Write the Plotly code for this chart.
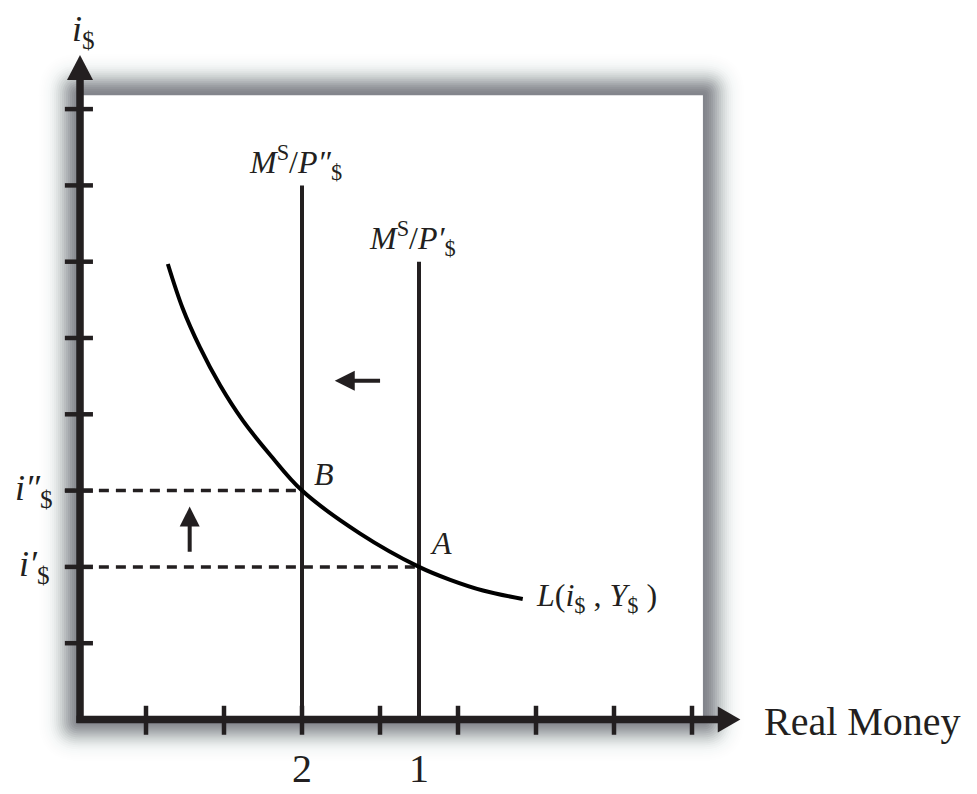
import math
import plotly.graph_objects as go

# tick marks on both axes (in tick units)
x_ticks = [1, 2, 3, 4, 5, 6, 7, 8]
y_ticks = [1, 2, 3, 4, 5, 6, 7, 8]

# real money supply lines M^S/P$
supply_x = [3.0, 4.5]
supply_top = [7.0, 6.0]
supply_labels = ["<i>M</i><sup>S</sup>/<i>P″</i><sub>$</sub>",
                 "<i>M</i><sup>S</sup>/<i>P′</i><sub>$</sub>"]
supply_ticklabels = ["2", "1"]

# interest rates at the equilibria
rates = [3.0, 2.0]
rate_labels = ["<i>i″</i><sub>$</sub>", "<i>i′</i><sub>$</sub>"]
points = ["<i>B</i>", "<i>A</i>"]

# money demand L(i$, Y$)
demand_x = [1.28, 1.47, 1.69, 1.95, 2.24, 2.59, 3.0, 3.74, 4.5, 4.9, 5.32, 5.83]
demand_y = [5.97, 5.39, 4.88, 4.38, 3.92, 3.47, 3.0, 2.44, 2.0, 1.83, 1.69, 1.58]

# frame
ax_x = 0.154          # where the vertical axis sits
box_right = 8.14
box_top = 8.18
x_arrow = 8.62
y_arrow = 8.71

PX_X, PX_Y = 78.0, 76.3   # pixels per unit
OFF = 8                   # page margin of the html body
INK = "#231f20"
FONT = "Liberation Serif"

fig = go.Figure()


def rounded_rect(x0, y0, x1, y1, rx, ry):
    return (f"M{x0+rx},{y0} L{x1-rx},{y0} Q{x1},{y0} {x1},{y0+ry} "
            f"L{x1},{y1-ry} Q{x1},{y1} {x1-rx},{y1} L{x0+rx},{y1} "
            f"Q{x0},{y1} {x0},{y1-ry} L{x0},{y0+ry} Q{x0},{y0} {x0+rx},{y0} Z")


def shade(r):
    # darkness of the blurred shadow r pixels outside the panel
    return 0.62 * math.exp(-(max(r, 0) / 19.0) ** 2)


# soft shadow round the white panel
for d in range(48, 0, -2):
    a = 1 - (1 - shade(d - 1)) / (1 - shade(d + 1))
    dx, dy = d / PX_X, d / PX_Y
    fig.add_shape(type="path", layer="below", line_width=0,
                  fillcolor=f"rgba(62,66,74,{a:.4f})",
                  path=rounded_rect(ax_x - dx, -dy, box_right + dx, box_top + dy, dx, dy))
fig.add_shape(type="rect", layer="below", line_width=0, fillcolor="white",
              x0=ax_x, y0=0, x1=box_right, y1=box_top)

# dashed rate lines
for r, sx in zip(rates, supply_x):
    fig.add_trace(go.Scatter(x=[-0.04, sx], y=[r, r], mode="lines",
                             line=dict(color=INK, width=3.5, dash="10px,7px")))

# supply lines
for sx, top in zip(supply_x, supply_top):
    fig.add_trace(go.Scatter(x=[sx, sx], y=[0, top], mode="lines",
                             line=dict(color=INK, width=4)))

# demand curve
fig.add_trace(go.Scatter(x=demand_x, y=demand_y, mode="lines",
                         line=dict(color="black", width=4, shape="spline", smoothing=1)))

# ticks
tx, ty = [], []
for t in x_ticks:
    tx += [t, t, None]
    ty += [-0.2, 0.18, None]
for t in y_ticks:
    tx += [-0.04, 0.32, None]
    ty += [t, t, None]
fig.add_trace(go.Scatter(x=tx, y=ty, mode="lines", line=dict(color=INK, width=4.5)))

# axes
fig.add_trace(go.Scatter(x=[ax_x, ax_x, None, ax_x - 0.045, x_arrow - 0.25],
                         y=[-0.045, y_arrow - 0.25, None, 0, 0],
                         mode="lines", line=dict(color=INK, width=7.5)))
hx, hy = 13 / PX_X, 13 / PX_Y
fig.add_shape(type="path", fillcolor=INK, line_width=0,
              path=f"M{ax_x - hx},{y_arrow - 0.33} L{ax_x},{y_arrow} L{ax_x + hx},{y_arrow - 0.33} Z")
fig.add_shape(type="path", fillcolor=INK, line_width=0,
              path=f"M{x_arrow - 0.29},{-hy} L{x_arrow},0 L{x_arrow - 0.29},{hy} Z")

# small shift arrows
fig.add_annotation(x=3.42, y=4.44, ax=4.02, ay=4.44, axref="x", ayref="y", text="",
                   showarrow=True, arrowhead=2, arrowsize=1, arrowwidth=4, arrowcolor=INK)
fig.add_annotation(x=1.56, y=2.79, ax=1.56, ay=2.18, axref="x", ayref="y", text="",
                   showarrow=True, arrowhead=2, arrowsize=1, arrowwidth=4, arrowcolor=INK)


# text
def label(x, y, text, size, **kw):
    fig.add_annotation(x=x, y=y, text=text, showarrow=False,
                       font=dict(family=FONT, size=size, color=INK), **kw)


label(0.2, 9.02, "<i>i</i><sub>$</sub>", 36)
for r, t in zip(rates, rate_labels):
    label(-0.43, r, t, 36)
for sx, top, t, tl in zip(supply_x, supply_top, supply_labels, supply_ticklabels):
    label(sx - 0.08, top + 0.3, t, 32)
    label(sx, -0.64, tl, 40)
label(3.28, 3.22, points[0], 32)
label(4.78, 2.31, points[1], 32)
label(5.97, 1.6, "<i>L</i>(<i>i</i><sub>$</sub> , <i>Y</i><sub>$</sub> )", 32, xanchor="left")
label(8.9, -0.03, "Real Money", 40, xanchor="left")

W, H = 977 - OFF, 794 - OFF
fig.update_layout(width=W, height=H, autosize=False, showlegend=False,
                  margin=dict(l=0, r=0, t=0, b=0),
                  paper_bgcolor="white", plot_bgcolor="white",
                  xaxis=dict(range=[(OFF - 68) / PX_X, 909 / PX_X], visible=False, fixedrange=True),
                  yaxis=dict(range=[-74.5 / PX_Y, (719.5 - OFF) / PX_Y], visible=False, fixedrange=True))

fig.write_html("out.html")
